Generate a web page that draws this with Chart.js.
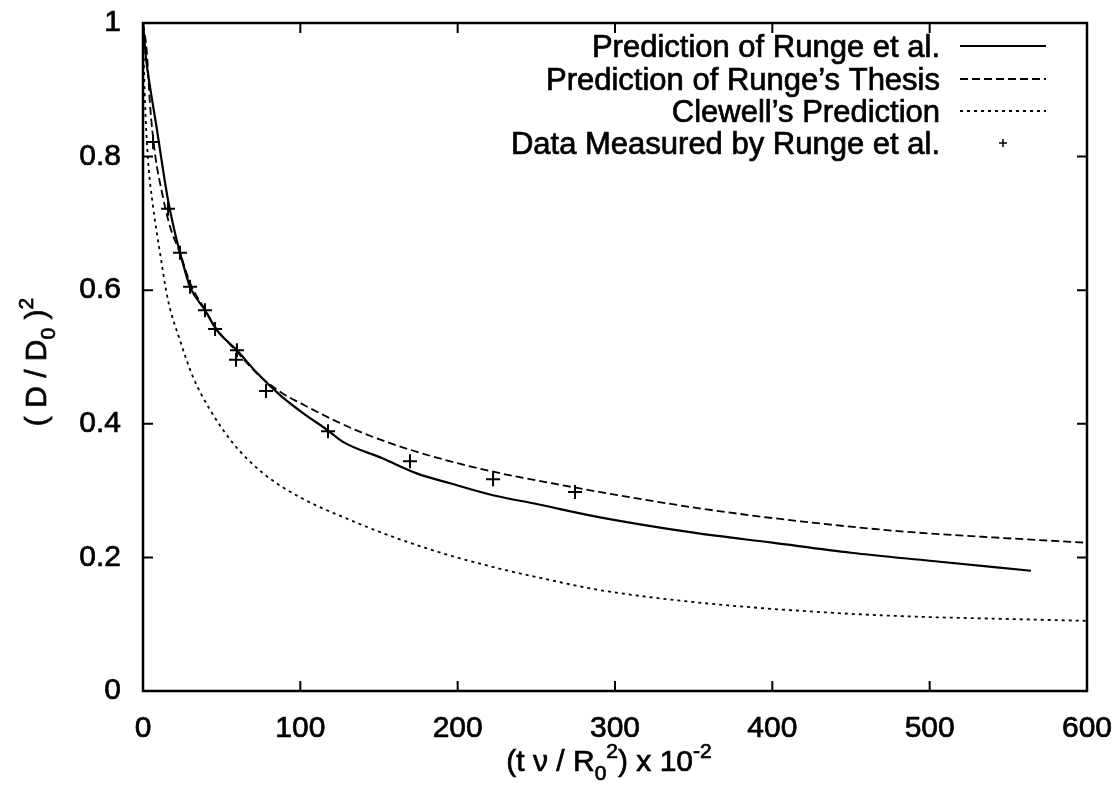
<!DOCTYPE html>
<html>
<head>
<meta charset="utf-8">
<script src="https://cdn.jsdelivr.net/npm/chart.js@4/dist/chart.umd.min.js"></script>
<style>
  html, body { margin: 0; padding: 0; background: #fff; }
  canvas { display: block; }
</style>
</head>
<body>
<canvas id="chart" width="1115" height="787"></canvas>
<script>
// Prediction of Runge et al. (solid)
var rungeX = [0, 2, 4.5, 8.9, 12.1, 15.9, 20.3, 24.8, 29.9, 39.4, 47, 59.7, 72.5, 87.1, 101.7, 117, 127.1, 152.5, 174.8, 195.1, 222.5, 247.9, 290.5, 350, 400, 450, 500, 564.4];
var rungeY = [1, 0.945, 0.904, 0.84, 0.79, 0.735, 0.686, 0.645, 0.605, 0.57, 0.54, 0.51, 0.476, 0.443, 0.416, 0.391, 0.373, 0.348, 0.325, 0.311, 0.293, 0.281, 0.26, 0.237, 0.222, 0.207, 0.195, 0.18];
// Prediction of Runge's Thesis (dashed)
var thesisX = [0, 2.5, 4.4, 7.6, 12.1, 17.2, 23.5, 29.9, 39.4, 47, 59.7, 72.5, 89, 100, 120, 140, 170, 200, 227, 260, 290, 355, 418, 482, 547, 600];
var thesisY = [1, 0.955, 0.88, 0.805, 0.746, 0.695, 0.656, 0.611, 0.571, 0.541, 0.508, 0.475, 0.445, 0.431, 0.407, 0.386, 0.361, 0.341, 0.326, 0.311, 0.298, 0.273, 0.254, 0.239, 0.229, 0.222];
// Clewell's Prediction (dotted)
var clewellX = [0, 0.4, 1.3, 3.2, 6.4, 10.8, 15.9, 23.5, 31.8, 42.6, 57.2, 76.3, 99.8, 131.6, 163.3, 195, 227, 257, 290.5, 354.7, 418.2, 482.4, 546.6, 600];
var clewellY = [1, 0.955, 0.88, 0.795, 0.725, 0.656, 0.585, 0.525, 0.47, 0.421, 0.371, 0.326, 0.29, 0.256, 0.227, 0.203, 0.183, 0.167, 0.151, 0.132, 0.12, 0.112, 0.108, 0.105];
// Data Measured by Runge et al. (+)
var measX = [6.4, 15.9, 23.5, 29.9, 39.4, 45.8, 59.7, 59.1, 78.2, 117.6, 169.7, 222.5, 274.6];
var measY = [0.822, 0.722, 0.656, 0.605, 0.57, 0.542, 0.51, 0.496, 0.449, 0.389, 0.344, 0.317, 0.298];

var xTicks = [0, 100, 200, 300, 400, 500, 600];
var yTicks = [0, 0.2, 0.4, 0.6, 0.8, 1];
var labels = ['Prediction of Runge et al.', "Prediction of Runge\u2019s Thesis", "Clewell\u2019s Prediction", 'Data Measured by Runge et al.'];

var FONT = '"Liberation Sans", Arial, Helvetica, sans-serif';

function pts(xs, ys) {
    return xs.map(function (x, i) { return { x: x, y: ys[i] }; });
}

// draws a run of text with sub/superscripts, returns width
function richText(ctx, parts, x, y, size, measureOnly) {
    var w = 0;
    parts.forEach(function (p) {
        var s = p.s ? size * 0.7 : size;
        ctx.font = s + 'px ' + FONT;
        var dy = p.s === 'sub' ? size * 0.3 : (p.s === 'sup' ? -size * 0.42 : 0);
        if (!measureOnly) {
            ctx.fillText(p.t, x + w, y + dy);
            ctx.strokeText(p.t, x + w, y + dy);
        }
        w += ctx.measureText(p.t).width;
    });
    return w;
}

var framePlugin = {
    id: 'frame',
    afterDraw: function (chart) {
        var ctx = chart.ctx, a = chart.chartArea;
        var xs = chart.scales.x, ys = chart.scales.y;
        ctx.save();
        ctx.strokeStyle = '#000';
        ctx.lineWidth = 2.5;
        ctx.strokeRect(a.left, a.top, a.right - a.left, a.bottom - a.top);
        ctx.lineWidth = 2;
        ctx.beginPath();
        xTicks.forEach(function (v) {
            var px = xs.getPixelForValue(v);
            ctx.moveTo(px, a.bottom); ctx.lineTo(px, a.bottom - 10);
            ctx.moveTo(px, a.top); ctx.lineTo(px, a.top + 10);
        });
        yTicks.forEach(function (v) {
            var py = ys.getPixelForValue(v);
            ctx.moveTo(a.left, py); ctx.lineTo(a.left + 10, py);
            ctx.moveTo(a.right, py); ctx.lineTo(a.right - 10, py);
        });
        ctx.stroke();

        // legend, text right aligned with sample on the right
        ctx.fillStyle = '#000';
        ctx.lineWidth = 0.7;
        ctx.textBaseline = 'alphabetic';
        ctx.textAlign = 'right';
        ctx.font = '31px ' + FONT;
        var baseY = [57, 90, 122, 154];
        chart.data.datasets.forEach(function (ds, i) {
            var y = baseY[i];
            ctx.fillText(labels[i], 940, y);
            ctx.strokeText(labels[i], 940, y);
            var ly = y - 11;
            ctx.save();
            if (ds.showLine) {
                ctx.lineWidth = ds.borderWidth;
                ctx.setLineDash(ds.borderDash || []);
                ctx.beginPath();
                ctx.moveTo(960, ly); ctx.lineTo(1046, ly);
                ctx.stroke();
            } else {
                ctx.lineWidth = 1.5;
                ctx.beginPath();
                ctx.moveTo(999, ly); ctx.lineTo(1007, ly);
                ctx.moveTo(1003, ly - 4); ctx.lineTo(1003, ly + 4);
                ctx.stroke();
            }
            ctx.restore();
        });

        // axis titles
        ctx.textAlign = 'left';
        var xt = [{ t: '(t \u03bd / R' }, { t: '0', s: 'sub' }, { t: '2', s: 'sup' }, { t: ') x 10' }, { t: '-2', s: 'sup' }];
        var w = richText(ctx, xt, 0, 0, 30, true);
        richText(ctx, xt, 609 - w / 2, 771, 30);

        var yt = [{ t: '( D / D' }, { t: '0', s: 'sub' }, { t: ' )' }, { t: '2', s: 'sup' }];
        ctx.translate(46, 362);
        ctx.rotate(-Math.PI / 2);
        w = richText(ctx, yt, 0, 0, 30, true);
        richText(ctx, yt, -w / 2, 0, 30);
        ctx.restore();
    }
};

var lineBase = { showLine: true, pointRadius: 0, borderColor: '#000', fill: false, cubicInterpolationMode: 'monotone' };

new Chart(document.getElementById('chart').getContext('2d'), {
    type: 'scatter',
    data: {
        datasets: [
            Object.assign({ label: labels[0], data: pts(rungeX, rungeY), borderWidth: 2.2 }, lineBase),
            Object.assign({ label: labels[1], data: pts(thesisX, thesisY), borderWidth: 1.8, borderDash: [8, 4] }, lineBase),
            Object.assign({ label: labels[2], data: pts(clewellX, clewellY), borderWidth: 1.8, borderDash: [3, 4] }, lineBase),
            { label: labels[3], data: pts(measX, measY), showLine: false, pointStyle: 'cross', pointRadius: 7, borderWidth: 2, borderColor: '#000', backgroundColor: '#000' }
        ]
    },
    options: {
        responsive: false,
        animation: false,
        layout: { padding: { left: 0, right: 28, top: 23, bottom: 0 } },
        plugins: { legend: { display: false }, tooltip: { enabled: false } },
        scales: {
            x: {
                type: 'linear', min: 0, max: 600,
                afterFit: function (s) { s.height = 96; s.paddingLeft = 0; s.paddingRight = 0; },
                afterBuildTicks: function (s) { s.ticks = xTicks.map(function (v) { return { value: v }; }); },
                grid: { display: false }, border: { display: false },
                ticks: { color: '#000', padding: 12, maxRotation: 0, textStrokeColor: '#000', textStrokeWidth: 0.7, font: { family: FONT, size: 30 } }
            },
            y: {
                type: 'linear', min: 0, max: 1,
                afterFit: function (s) { s.width = 143; s.paddingTop = 0; s.paddingBottom = 0; },
                afterBuildTicks: function (s) { s.ticks = yTicks.map(function (v) { return { value: v }; }); },
                grid: { display: false }, border: { display: false },
                ticks: { color: '#000', padding: 14, textStrokeColor: '#000', textStrokeWidth: 0.7, font: { family: FONT, size: 30 }, callback: function (v) { return String(v); } }
            }
        }
    },
    plugins: [framePlugin]
});
</script>
</body>
</html>
